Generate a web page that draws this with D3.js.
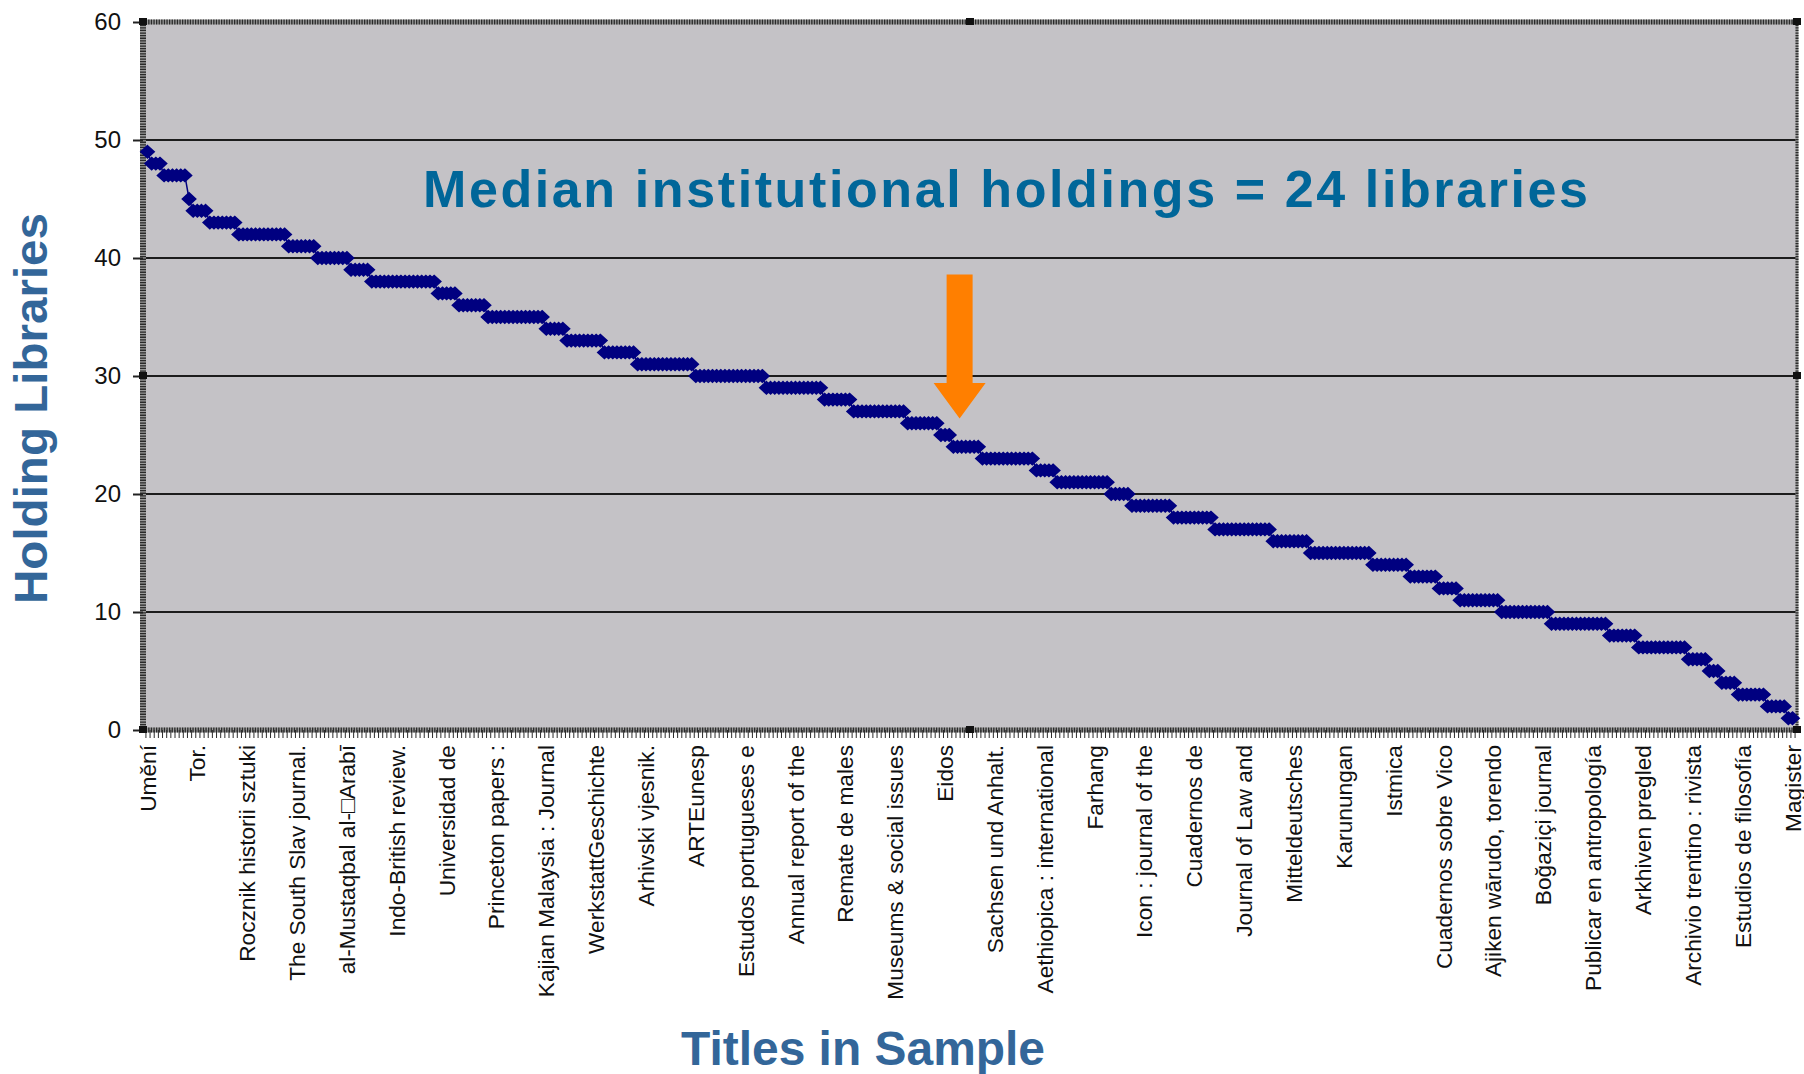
<!DOCTYPE html>
<html><head><meta charset="utf-8">
<script src="https://cdn.jsdelivr.net/npm/d3@7"></script>
<style>body{margin:0;background:#fff} svg{display:block}</style>
</head><body>
<svg id="chart" width="1804" height="1074"></svg>
<script>
// Holding libraries per title, sorted (397 titles)
const holdings = [
49,
48,48,48,
47,47,47,47,47,47,
45,
44,44,44,44,
43,43,43,43,43,43,43,
42,42,42,42,42,42,42,42,42,42,42,42,
41,41,41,41,41,41,41,
40,40,40,40,40,40,40,40,
39,39,39,39,39,
38,38,38,38,38,38,38,38,38,38,38,38,38,38,38,38,
37,37,37,37,37,
36,36,36,36,36,36,36,
35,35,35,35,35,35,35,35,35,35,35,35,35,35,
34,34,34,34,34,
33,33,33,33,33,33,33,33,33,
32,32,32,32,32,32,32,32,
31,31,31,31,31,31,31,31,31,31,31,31,31,31,
30,30,30,30,30,30,30,30,30,30,30,30,30,30,30,30,30,
29,29,29,29,29,29,29,29,29,29,29,29,29,29,
28,28,28,28,28,28,28,
27,27,27,27,27,27,27,27,27,27,27,27,27,
26,26,26,26,26,26,26,26,
25,25,25,
24,24,24,24,24,24,24,
23,23,23,23,23,23,23,23,23,23,23,23,23,
22,22,22,22,22,
21,21,21,21,21,21,21,21,21,21,21,21,21,
20,20,20,20,20,
19,19,19,19,19,19,19,19,19,19,
18,18,18,18,18,18,18,18,18,18,
17,17,17,17,17,17,17,17,17,17,17,17,17,17,
16,16,16,16,16,16,16,16,16,
15,15,15,15,15,15,15,15,15,15,15,15,15,15,15,
14,14,14,14,14,14,14,14,14,
13,13,13,13,13,13,13,
12,12,12,12,12,
11,11,11,11,11,11,11,11,11,11,
10,10,10,10,10,10,10,10,10,10,10,10,
9,9,9,9,9,9,9,9,9,9,9,9,9,9,
8,8,8,8,8,8,8,
7,7,7,7,7,7,7,7,7,7,7,7,
6,6,6,6,6,
5,5,5,
4,4,4,4,
3,3,3,3,3,3,3,
2,2,2,2,2,
1,1
];

// Category labels shown (every 12th title)
const tickLabels = [
"Umění","Tor.","Rocznik historii sztuki","The South Slav journal.",
"al-Mustaqbal al-\u25A1Arabī","Indo-British review.","Universidad de","Princeton papers :",
"Kajian Malaysia : Journal","WerkstattGeschichte","Arhivski vjesnik.","ARTEunesp",
"Estudos portugueses e","Annual report of the","Remate de males","Museums & social issues",
"Eidos","Sachsen und Anhalt.","Aethiopica : international","Farhang",
"Icon : journal of the","Cuadernos de","Journal of Law and","Mitteldeutsches",
"Karunungan","Istmica","Cuadernos sobre Vico","Ajiken wārudo, torendo",
"Boğaziçi journal","Publicar en antropología","Arkhiven pregled","Archivio trentino : rivista",
"Estudios de filosofía","Magister"
];
const labelEvery = 12;
const yTicks = [0,10,20,30,40,50,60];
const gridValues = [10,20,30,40,50];
const yTitle = "Holding Libraries";
const xTitle = "Titles in Sample";
const annotation = "Median institutional holdings = 24 libraries";

const plot = {left:143, right:1797, top:22, bottom:730};
const svg = d3.select('#chart');
const n = holdings.length;
const FONT = "'Liberation Sans', Arial, sans-serif";

const x = d3.scaleLinear().domain([0, n-1]).range([147.5, 1792.5]);
const y = d3.scaleLinear().domain([0, 60]).range([plot.bottom, plot.top]);

// plot background
svg.append('rect').attr('x', plot.left).attr('y', plot.top)
  .attr('width', plot.right-plot.left).attr('height', plot.bottom-plot.top)
  .attr('fill', '#c4c2c6');

// gridlines
svg.append('g').selectAll('line').data(gridValues).join('line')
  .attr('x1', plot.left).attr('x2', plot.right)
  .attr('y1', d=>y(d)).attr('y2', d=>y(d))
  .attr('stroke', '#1c1c1c').attr('stroke-width', 2);

// hatched frame (top, right, bottom, left)
const frame = svg.append('g');
[[plot.left,plot.top,plot.right,plot.top,5],[plot.right,plot.top,plot.right,plot.bottom,3],
 [plot.left,plot.bottom,plot.right,plot.bottom,5],[plot.left,plot.top,plot.left,plot.bottom,6]]
 .forEach(([x1,y1,x2,y2,w])=>{
   frame.append('line').attr('x1',x1).attr('y1',y1).attr('x2',x2).attr('y2',y2)
     .attr('stroke','#9a9a9a').attr('stroke-width',w);
   frame.append('line').attr('x1',x1).attr('y1',y1).attr('x2',x2).attr('y2',y2)
     .attr('stroke','#2a2a2a').attr('stroke-width',w).attr('stroke-dasharray','1.3,1.3');
 });

// y axis
const yAxis = d3.axisLeft(y).tickValues(yTicks).tickSize(10).tickPadding(12);
const yg = svg.append('g').attr('transform', `translate(${plot.left},0)`).call(yAxis);
yg.select('.domain').remove();
yg.selectAll('.tick line').attr('stroke','#222').attr('stroke-width',2);
yg.selectAll('.tick text').attr('font-family', FONT).attr('font-size', 24).attr('fill','#111');

// x axis minor ticks (category boundaries)
const xTickAxis = d3.axisBottom(x).tickValues(d3.range(n+1).map(i=>i-0.5)).tickFormat('').tickSize(8);
const xg = svg.append('g').attr('transform', `translate(0,${plot.bottom})`).call(xTickAxis);
xg.select('.domain').remove();
xg.selectAll('.tick line').attr('stroke','#2a2a2a').attr('stroke-width',1);

// x axis labels
const labelIdx = d3.range(0, n, labelEvery);
const xLabAxis = d3.axisBottom(x).tickValues(labelIdx)
  .tickFormat(i => tickLabels[i/labelEvery]).tickSize(0);
const xl = svg.append('g').attr('transform', `translate(0,${plot.bottom})`).call(xLabAxis);
xl.select('.domain').remove();
xl.selectAll('.tick text')
  .attr('font-family', FONT).attr('font-size', 22.7).attr('fill','#111')
  .attr('text-anchor','end').attr('transform','rotate(-90)')
  .attr('x', -15).attr('y', 0).attr('dy','0.33em');

// selection handles
const handles = [[plot.left,plot.top],[(plot.left+plot.right)/2,plot.top],[plot.right,plot.top],
  [plot.left,(plot.top+plot.bottom)/2],[plot.right,(plot.top+plot.bottom)/2],
  [plot.left,plot.bottom],[(plot.left+plot.right)/2,plot.bottom],[plot.right,plot.bottom]];
svg.append('g').selectAll('rect').data(handles).join('rect')
  .attr('x', d=>d[0]-4).attr('y', d=>d[1]-4).attr('width',8).attr('height',7)
  .attr('fill','#111');

// data line + markers
const line = d3.line().x((d,i)=>x(i)).y(d=>y(d));
svg.append('path').datum(holdings).attr('d', line)
  .attr('fill','none').attr('stroke','#000080').attr('stroke-width',1.5);
svg.append('g').selectAll('path').data(holdings).join('path')
  .attr('d','M0,-6L6.5,0L0,6L-6.5,0Z')
  .attr('transform',(d,i)=>`translate(${x(i)},${y(d)})`)
  .attr('fill','#000080').attr('stroke','#000080').attr('stroke-width',1.8)
  .attr('stroke-linejoin','miter');

// annotation text
svg.append('text').attr('x', 423).attr('y', 207)
  .attr('font-family', FONT).attr('font-weight','bold').attr('font-size', 52)
  .attr('fill', '#006699').attr('textLength', 1165).attr('lengthAdjust','spacing')
  .text(annotation);

// orange arrow pointing at the median
const ax = x(195.5), hw = 13, hh = 26;
const yTop = y(38.6), yBase = y(29.4), yTip = y(26.4);
svg.append('polygon')
  .attr('points', [[ax-hw,yTop],[ax+hw,yTop],[ax+hw,yBase],[ax+hh,yBase],[ax,yTip],[ax-hh,yBase],[ax-hw,yBase]].map(p=>p.join(',')).join(' '))
  .attr('fill', '#ff7f00');

// axis titles
svg.append('text').attr('transform','translate(47,408.5) rotate(-90)')
  .attr('text-anchor','middle').attr('font-family', FONT).attr('font-weight','bold')
  .attr('font-size', 46).attr('fill','#336699').attr('textLength', 391).attr('lengthAdjust','spacingAndGlyphs')
  .text(yTitle);
svg.append('text').attr('x', 863).attr('y', 1065)
  .attr('text-anchor','middle').attr('font-family', FONT).attr('font-weight','bold')
  .attr('font-size', 48).attr('fill','#336699').attr('textLength', 364).attr('lengthAdjust','spacingAndGlyphs')
  .text(xTitle);
</script>
</body></html>
